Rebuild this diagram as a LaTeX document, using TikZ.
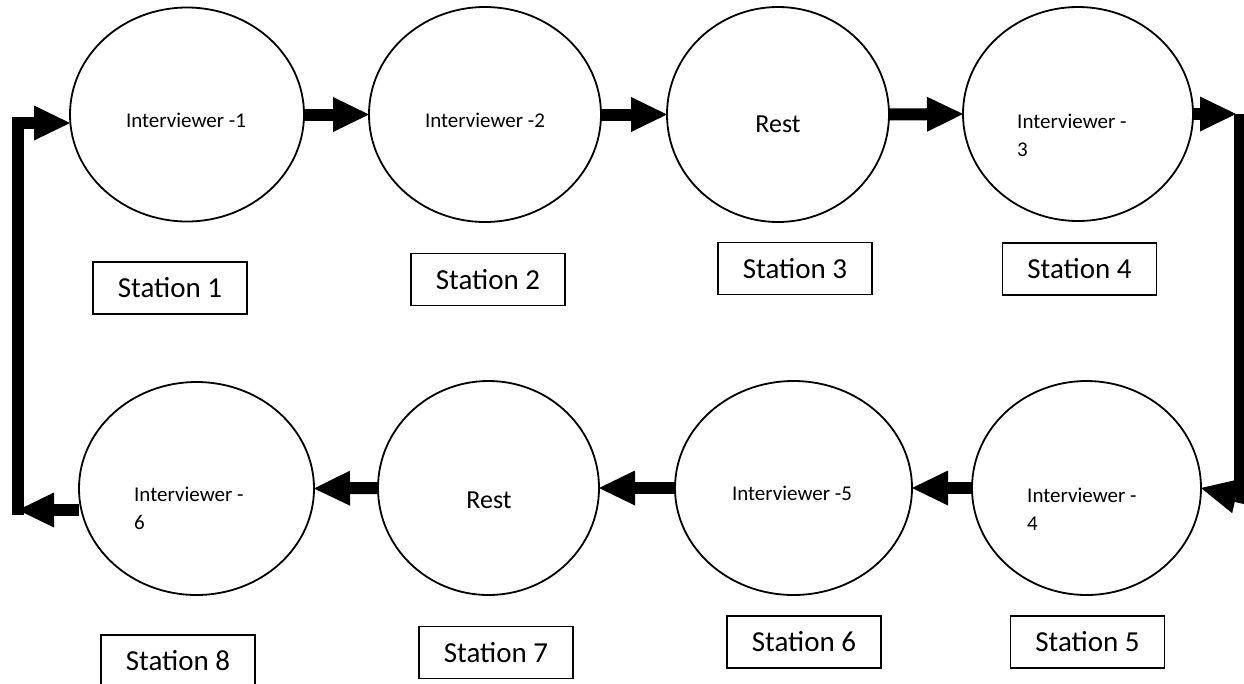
\documentclass[tikz,border=0pt]{standalone}
\usepackage{fontspec}
\setmainfont{Carlito}
\usetikzlibrary{arrows.meta,shapes.geometric}
\begin{document}
\begin{tikzpicture}[x=1pt,y=-1pt,
  oval/.style={ellipse,draw,line width=1.8pt,inner sep=0pt,outer sep=0pt},
  stationbox/.style={draw,line width=1.8pt,minimum width=154pt,minimum height=52pt,inner sep=0pt,font=\fontsize{29}{34}\selectfont},
  smalltxt/.style={inner sep=0pt,font=\fontsize{21}{28}\selectfont},
  resttxt/.style={inner sep=0pt,font=\fontsize{26}{30}\selectfont},
  flow/.style={line width=12pt,line join=miter,-{Triangle[length=36pt,width=35pt,line width=0pt]}},
  bar/.style={line width=12pt,line join=miter}]
\useasboundingbox (0,0) rectangle (1244,683);

% ellipses
\node[oval,minimum width=234pt,minimum height=214pt] (e1) at (187,114.5) {};
\node[oval,minimum width=232pt,minimum height=215pt] (e2) at (485,114.5) {};
\node[oval,minimum width=222pt,minimum height=215pt] (e3) at (778,114.5) {};
\node[oval,minimum width=230pt,minimum height=214pt] (e4) at (1078,114) {};
\node[oval,minimum width=229pt,minimum height=214pt] (e5) at (1086.5,488) {};
\node[oval,minimum width=237pt,minimum height=214pt] (e6) at (793.5,488) {};
\node[oval,minimum width=221pt,minimum height=214pt] (e7) at (488.5,488) {};
\node[oval,minimum width=235pt,minimum height=213pt] (e8) at (196.5,488.5) {};

% texts in ellipses
\node[smalltxt,anchor=base] (l1) at (186,127) {Interviewer -1};
\node[smalltxt,anchor=base] (l2) at (485,127) {Interviewer -2};
\node[resttxt,anchor=base] (l3) at (778,132) {Rest};
\node[smalltxt,anchor=north west,align=left] (l4) at (1017,113.5) {Interviewer -\\3};
\node[smalltxt,anchor=north west,align=left] (l5) at (1027,487.5) {Interviewer -\\4};
\node[smalltxt,anchor=base] (l6) at (792,500) {Interviewer -5};
\node[resttxt,anchor=base] (l7) at (489,508) {Rest};
\node[smalltxt,anchor=north west,align=left] (l8) at (134,486.5) {Interviewer -\\6};

% station boxes
\node[stationbox] (s1) at (170,288) {Station 1};
\node[stationbox] (s2) at (488,279.5) {Station 2};
\node[stationbox] (s3) at (795,268.5) {Station 3};
\node[stationbox] (s4) at (1079.5,269) {Station 4};
\node[stationbox] (s5) at (1087.5,642) {Station 5};
\node[stationbox] (s6) at (804,642) {Station 6};
\node[stationbox] (s7) at (496,652.5) {Station 7};
\node[stationbox] (s8) at (178,661) {Station 8};

% corner coordinates
\coordinate (rtip) at (1236,114);
\coordinate (rt) at (1240,114);
\coordinate (rb) at (1240,497);
\coordinate (ltip) at (18,510);
\coordinate (lb) at (17.5,515);
\coordinate (lt) at (17.5,123);

% top row arrows
\draw[flow] (e1.east) -- (e2.west);
\draw[flow] (e2.east) -- (e3.west);
\draw[flow] (e3.east) -- (e4.west);
\draw[flow] (e4.east) -- (rtip);
% right side
\draw[flow] (rt) -- (rb) -- (e5.east);
% bottom row arrows
\draw[flow] (e5.west) -- (e6.east);
\draw[flow] (e6.west) -- (e7.east);
\draw[flow] (e7.west) -- (e8.east);
\draw[flow] (e8.west |- ltip) -- (ltip);
% left side
\draw[flow] (lb) -- (lt) -- (e1.west |- lt);
\end{tikzpicture}
\end{document}
